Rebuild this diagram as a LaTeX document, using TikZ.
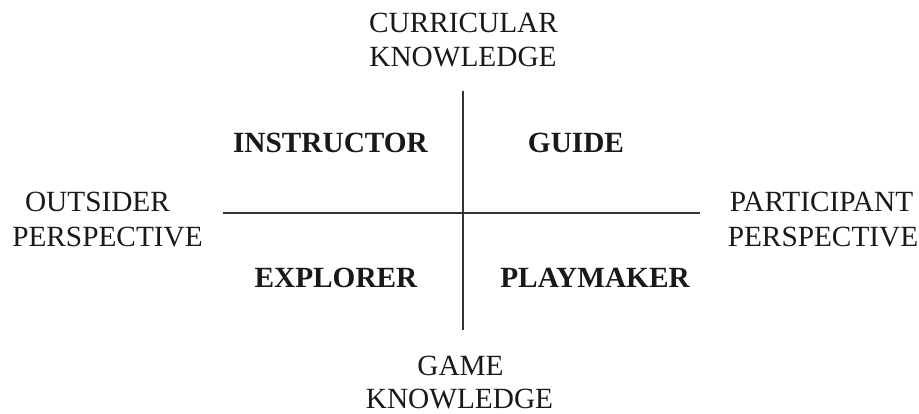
\documentclass[tikz,border=0pt]{standalone}
\usepackage{fontspec}
\setmainfont{Liberation Serif}
\begin{document}
\begin{tikzpicture}[x=1pt,y=-1pt,
  lbl/.style={anchor=base,inner sep=0pt,font=\fontsize{29.3}{34}\selectfont,text=black!90},
  role/.style={lbl,font=\fontsize{29.3}{34}\selectfont\bfseries},
  axis/.style={line width=1.4pt,draw=black!80}]
\useasboundingbox (0,0) rectangle (919,414);
\fill[white] (0,0) rectangle (919,414);
% axis labels
\node[lbl] (cur1) at (463.5,33) {CURRICULAR};
\node[lbl] (cur2) at (463,67) {KNOWLEDGE};
\node[lbl] (game1) at (460.5,375) {GAME};
\node[lbl] (game2) at (459.5,408) {KNOWLEDGE};
\node[lbl] (out1) at (97.5,212) {OUTSIDER};
\node[lbl] (out2) at (107.5,247) {PERSPECTIVE};
\node[lbl] (par1) at (821.5,212) {PARTICIPANT};
\node[lbl] (par2) at (823,247) {PERSPECTIVE};
% quadrant roles
\node[role] (instr) at (330.5,153) {INSTRUCTOR};
\node[role] (guide) at (576,153) {GUIDE};
\node[role] (expl) at (336,288) {EXPLORER};
\node[role] (play) at (595,288) {PLAYMAKER};
% axes
\coordinate (vtop) at (463,91);
\coordinate (vbot) at (463,330);
\coordinate (hleft) at (223,213);
\coordinate (hright) at (700,213);
\draw[axis] (vtop) -- (vbot);
\draw[axis] (hleft) -- (hright);
\end{tikzpicture}
\end{document}
